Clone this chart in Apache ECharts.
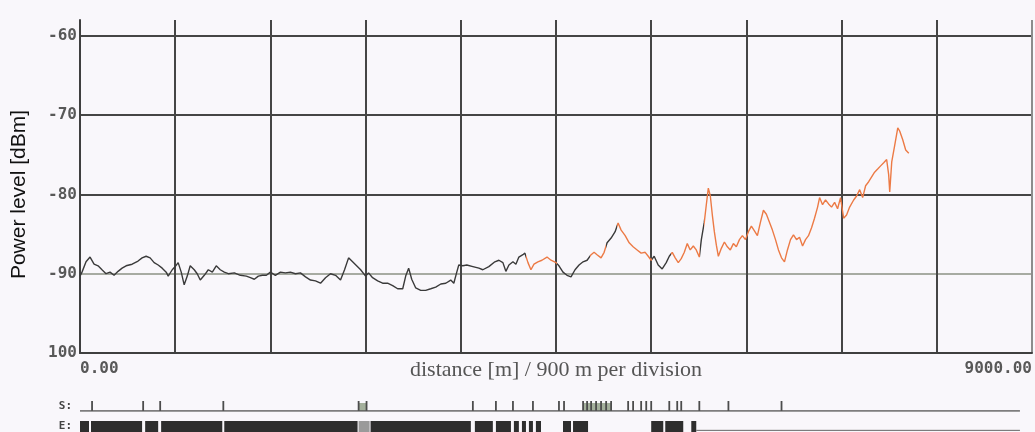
<!DOCTYPE html>
<html><head><meta charset="utf-8">
<script src="https://cdn.jsdelivr.net/npm/echarts@6/dist/echarts.min.js"></script>
<style>html,body{margin:0;padding:0;background:#f9f7fb}#c{width:1035px;height:432px}</style>
</head><body><div id="c"></div>
<script>
// distance along fibre (m)
const distance = [0,19,57,95,133,171,208,246,284,322,360,398,436,493,549,587,625,663,701,739,777,815,834,872,900,
928,957,985,1014,1042,1080,1108,1137,1175,1213,1251,1288,1326,1364,1402,1459,1516,1573,1611,1648,1686,1724,1762,1800,
1847,1895,1942,1989,2037,2084,2132,2179,2226,2274,2321,2368,2416,2463,2501,2539,2577,2615,2653,2700,
2728,2766,2814,2861,2908,2956,3003,3051,3079,3107,3136,3174,3221,3268,3316,3363,3411,3458,3505,3534,3562,3581,3619,
3657,3714,3771,3808,3865,3922,3960,3998,4026,4055,4093,4121,4149,4187,4206,4235,4263,4292,4329,4367,4415,4453,4500,
4528,4566,4604,4642,4680,4718,4756,4794,4832,4860,4888,4926,4955,4983,5021,5059,5087,5116,5154,5192,5229,5267,5305,5343,5372,5400,
5428,5466,5504,5542,5571,5599,5627,5656,5684,5713,5741,5769,5798,5826,5855,5874,5902,5921,5940,5959,5978,5997,6016,6035,6063,6092,6120,6148,6177,6205,6234,6262,6291,6319,6347,6376,6404,6433,6461,6489,6518,6546,6575,6603,
6632,6660,6688,6717,6745,6774,6802,6831,6859,6887,6916,6944,6973,6992,7020,7048,7077,7105,7134,7162,7190,7219,7247,7276,7314,7342,7371,7399,7427,7456,7484,7512,7541,7569,7598,7626,7645,7655,7674,7702,7731,7749,7778,7806,7835];
// power level (dBm)
const level = [-90.3,-89.8,-88.5,-87.9,-88.8,-89.0,-89.5,-90.0,-89.8,-90.2,-89.7,-89.3,-89.0,-88.8,-88.4,-88.0,-87.8,-88.0,-88.6,-88.9,-89.3,-89.8,-90.3,-89.5,-89.1,
-88.6,-89.8,-91.4,-90.3,-89.0,-89.5,-90.0,-90.8,-90.2,-89.5,-89.8,-89.0,-89.5,-89.8,-90.0,-89.9,-90.2,-90.3,-90.5,-90.7,-90.3,-90.2,-90.2,-89.8,
-90.2,-89.8,-89.9,-89.8,-90.0,-89.9,-90.4,-90.8,-90.9,-91.2,-90.5,-90.0,-90.2,-90.8,-89.5,-88.0,-88.5,-89.0,-89.5,-90.3,
-89.9,-90.5,-90.9,-91.2,-91.2,-91.5,-91.9,-91.9,-90.3,-89.3,-90.7,-91.8,-92.1,-92.1,-91.9,-91.7,-91.3,-91.2,-90.8,-91.2,-89.8,-88.9,-89.0,
-88.9,-89.1,-89.3,-89.5,-89.1,-88.5,-88.3,-88.6,-89.7,-88.9,-88.5,-88.8,-87.9,-87.6,-87.4,-88.6,-89.5,-88.8,-88.5,-88.3,-87.9,-88.3,-88.6,
-89.0,-89.8,-90.2,-90.4,-89.5,-88.9,-88.5,-88.3,-87.6,-87.3,-87.6,-88.0,-87.3,-86.1,-85.5,-84.7,-83.6,-84.5,-85.2,-86.1,-86.6,-87.0,-87.4,-87.3,-87.8,-88.3,
-87.8,-88.9,-89.4,-88.6,-87.8,-87.3,-88.0,-88.6,-88.1,-87.3,-86.2,-87.0,-86.5,-87.0,-87.9,-85.7,-83.5,-81.3,-79.2,-80.2,-82.6,-84.7,-86.4,-87.8,-86.8,-86.0,-86.6,-87.0,-86.2,-86.6,-85.7,-85.2,-85.7,-84.7,-84.0,-84.6,-85.2,-83.5,-82.0,-82.5,-83.5,-84.5,-85.7,-87.0,
-88.0,-88.5,-87.0,-85.7,-85.1,-85.7,-85.4,-86.5,-85.7,-85.2,-84.2,-83.0,-81.6,-80.4,-81.3,-80.7,-81.2,-81.6,-81.0,-81.8,-80.4,-83.0,-82.6,-81.6,-80.7,-80.2,-79.4,-80.4,-78.9,-78.4,-77.8,-77.2,-76.8,-76.4,-76.0,-75.6,-77.5,-79.7,-75.9,-73.8,-71.6,-72.0,-73.1,-74.4,-74.8];
// distances where the trace colour switches (dark -> orange -> dark ...)
const colorBreaks = [4220,4510,4820,4970,5075,5410,5590,5860,5895];
const traceColors = ['#3a3a3a','#ec7a45'];
// axis tick labels
const yTickValues = [-100,-90,-80,-70,-60];
const yTickLabels = ['100','-90','-80','-70','-60'];
const xTickValues = [0,9000];
const xTickLabels = ['0.00','9000.00'];
// event strips (m)
const sEvents = [114,597,758,1355,2634,2709,3714,3932,4093,4282,4528,4576,4756,4794,4832,4879,4926,4974,5021,5182,5229,5305,5353,5400,5571,5646,5684,5855,6130,6632];
const sBlocks = [[2634,2709],[4756,5021]];
const eBars = [[0,85],[104,587],[616,739],[767,1345],[1364,2624],[2747,3695],[3733,3903],[3932,4074],[4102,4149],[4178,4216],[4244,4282],[4310,4358],[4566,4642],[4661,4803],[5400,5514],[5533,5703],[5779,5826]];
const eGreyBars = [[2634,2738]];
const stripEnd = 8886;

const pieces = [];
let prev = null;
for (let i = 0; i <= colorBreaks.length; i++) {
  const p = {color: traceColors[i % 2]};
  if (prev !== null) p.gte = prev;
  if (i < colorBreaks.length) p.lt = colorBreaks[i];
  pieces.push(p);
  prev = colorBreaks[i];
}

const monoFont = {fontFamily: 'DejaVu Sans Mono', fontWeight: 'bold', fontSize: 16, color: '#585858'};

function rectItem(fill, yLo, yHi, minW) {
  return function (params, api) {
    const a = api.coord([api.value(0), yLo]);
    const b = api.coord([api.value(1), yHi]);
    const raw = b[0] - a[0];
    const w = Math.max(raw, minW);
    const x = raw < minW ? a[0] - minW / 2 : a[0];
    return {type: 'rect', shape: {x: x, y: Math.min(a[1], b[1]), width: w, height: Math.abs(a[1] - b[1])}, style: {fill: fill}};
  };
}

const chart = echarts.init(document.getElementById('c'), null, {renderer: 'canvas'});
chart.setOption({
  backgroundColor: '#f9f7fb',
  animation: false,
  grid: [
    {left: 80, right: 3, top: 20, bottom: 79, containLabel: false, outerBoundsMode: 'none'},
    {left: 80, right: 3, top: 401, height: 10, containLabel: false, outerBoundsMode: 'none'},
    {left: 80, right: 3, top: 421, height: 11, containLabel: false, outerBoundsMode: 'none'}
  ],
  xAxis: [
    {type: 'value', gridIndex: 0, min: 0, max: 9000, interval: 900,
     name: 'distance [m] / 900 m per division', nameLocation: 'middle', nameGap: 6, nameMoveOverlap: false,
     nameTextStyle: {fontFamily: 'Liberation Serif', fontSize: 22, color: '#555', verticalAlign: 'top'},
     axisLine: {lineStyle: {color: '#3f3f3f', width: 2}},
     axisTick: {show: false},
     axisLabel: {margin: 8, ...monoFont, alignMinLabel: 'left', alignMaxLabel: 'right',
       formatter: v => { const i = xTickValues.indexOf(v); return i >= 0 ? xTickLabels[i] : ''; }},
     splitLine: {show: true, showMinLine: false, lineStyle: {width: 2,
       color: ['#454545','#454545','#454545','#454545','#454545','#454545','#454545','#454545','#454545','#8c8c8c']}}},
    {type: 'value', gridIndex: 1, min: 0, max: 9000, show: false},
    {type: 'value', gridIndex: 2, min: 0, max: 9000, show: false}
  ],
  yAxis: [
    {type: 'value', gridIndex: 0, min: -100, max: -58, interval: 10,
     name: 'Power level [dBm]', nameLocation: 'middle', nameGap: 50,
     nameTextStyle: {fontFamily: 'Liberation Sans', fontSize: 21, color: '#111', padding: [0, 16, 0, 0]},
     axisLine: {show: true, lineStyle: {color: '#3f3f3f', width: 2}},
     axisTick: {show: false},
     axisLabel: {margin: 3, ...monoFont, showMaxLabel: false,
       formatter: v => { const i = yTickValues.indexOf(v); return i >= 0 ? yTickLabels[i] : ''; }},
     splitLine: {show: true, showMinLine: false, showMaxLine: false,
       lineStyle: {width: 2, color: ['#a7aba2','#454545','#454545','#454545']}}},
    {type: 'value', gridIndex: 1, min: 0, max: 1, name: 'S:', nameLocation: 'middle', nameRotate: 0, nameGap: 8,
     nameTextStyle: {fontFamily: 'DejaVu Sans Mono', fontWeight: 'bold', fontSize: 11, color: '#444'},
     axisLine: {show: false}, axisTick: {show: false}, axisLabel: {show: false}, splitLine: {show: false}},
    {type: 'value', gridIndex: 2, min: 0, max: 1, name: 'E:', nameLocation: 'middle', nameRotate: 0, nameGap: 8,
     nameTextStyle: {fontFamily: 'DejaVu Sans Mono', fontWeight: 'bold', fontSize: 11, color: '#444'},
     axisLine: {show: false}, axisTick: {show: false}, axisLabel: {show: false}, splitLine: {show: false}}
  ],
  visualMap: {type: 'piecewise', show: false, dimension: 0, seriesIndex: 0, pieces: pieces},
  series: [
    {type: 'line', xAxisIndex: 0, yAxisIndex: 0, showSymbol: false, symbol: 'none',
     lineStyle: {width: 1.4}, data: distance.map((d, i) => [d, level[i]])},
    {type: 'line', xAxisIndex: 1, yAxisIndex: 1, symbol: 'none', lineStyle: {color: '#555', width: 1.5},
     data: [[0, 0], [stripEnd, 0]]},
    {type: 'custom', xAxisIndex: 1, yAxisIndex: 1, encode: {x: [0, 1]}, clip: false,
     renderItem: rectItem('#a4b09c', 0, 0.8, 2), data: sBlocks},
    {type: 'custom', xAxisIndex: 1, yAxisIndex: 1, encode: {x: [0, 1]}, clip: false,
     renderItem: rectItem('#4c4c4c', 0, 1, 1.8), data: sEvents.map(p => [p, p])},
    {type: 'line', xAxisIndex: 2, yAxisIndex: 2, symbol: 'none', lineStyle: {color: '#666', width: 1},
     data: [[5826, 0.15], [stripEnd, 0.15]]},
    {type: 'custom', xAxisIndex: 2, yAxisIndex: 2, encode: {x: [0, 1]}, clip: false,
     renderItem: rectItem('#2e2e2e', 0, 1, 2), data: eBars},
    {type: 'custom', xAxisIndex: 2, yAxisIndex: 2, encode: {x: [0, 1]}, clip: false,
     renderItem: rectItem('#9a9a9a', 0, 1, 2), data: eGreyBars}
  ]
});
</script></body></html>
